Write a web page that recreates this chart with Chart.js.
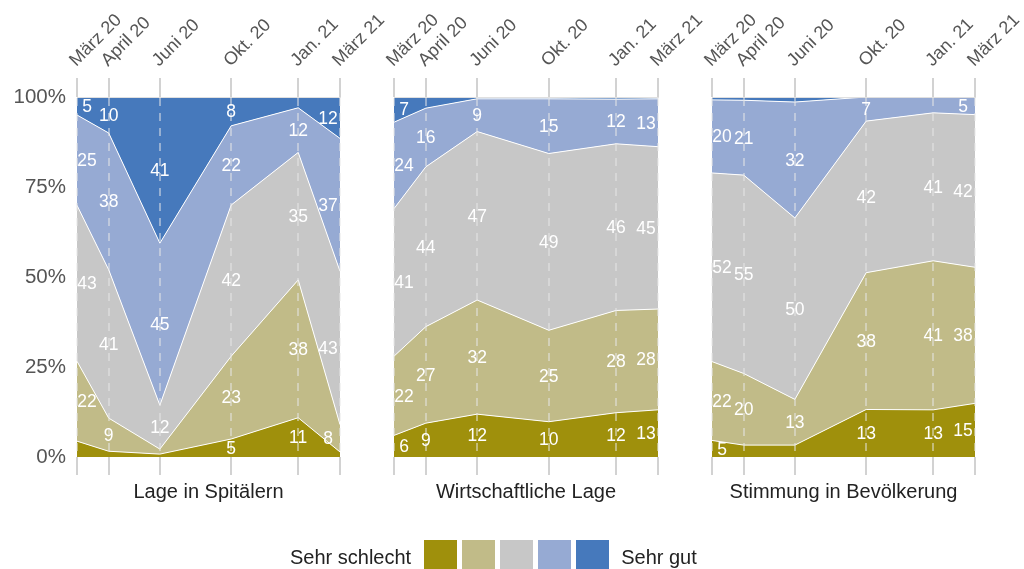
<!DOCTYPE html>
<html lang="de">
<head>
<meta charset="utf-8">
<title>Einschätzung der Lage</title>
<script src="https://cdn.jsdelivr.net/npm/chart.js@4.4.1/dist/chart.umd.min.js"></script>
<style>
    html, body { margin: 0; padding: 0; background: #fff; }
    body {
        width: 1024px; height: 569px; position: relative; overflow: hidden;
        font-family: "Liberation Sans", Arial, Helvetica, sans-serif;
    }
    .panel { position: absolute; top: 0; }
    .legend {
        position: absolute; left: 290px; top: 540px; height: 34px;
        display: flex; align-items: center; color: #222; font-size: 20px;
    }
    .legend .sw { width: 33px; height: 34px; margin-right: 5px; }
    .legend .first { margin-right: 13px; }
    .legend .last { margin-left: 7px; }
</style>
</head>
<body>
<div class="panel" id="p1"><canvas id="c1" width="395" height="569"></canvas></div>
<div class="panel" id="p2" style="left:370px"><canvas id="c2" width="350" height="569"></canvas></div>
<div class="panel" id="p3" style="left:690px"><canvas id="c3" width="334" height="569"></canvas></div>
<div class="legend" id="legend"></div>

<script>
// survey waves
const surveyDates = ['2020-03-01', '2020-04-14', '2020-06-24', '2020-10-01', '2021-01-02', '2021-03-01'];
const dateLabels = ['März 20', 'April 20', 'Juni 20', 'Okt. 20', 'Jan. 21', 'März 21'];
const categories = ['Sehr schlecht', 'Schlecht', 'Neutral', 'Gut', 'Sehr gut'];
const colors = ['#9f900c', '#c1bb88', '#c7c7c7', '#96aad3', '#4679bc'];
const yTicks = [0, 25, 50, 75, 100];

// Lage in Spitälern
const spitalSehrSchlecht = [4.4, 1.6, 0.8, 5, 10.9, 1.4];
const spitalSchlecht = [22.2, 9.2, 1.4, 23, 38.3, 7.6];
const spitalNeutral = [43.3, 41.2, 12.2, 42, 35.4, 42.6];
const spitalGut = [25.1, 38.0, 45.0, 22, 12.4, 36.9];
const spitalSehrGut = [5.0, 10.0, 40.6, 8, 3.0, 11.5];

// Wirtschaftliche Lage
const wirtschaftSehrSchlecht = [6, 9.4, 11.9, 9.8, 12.3, 13.1];
const wirtschaftSchlecht = [22, 26.8, 31.7, 25.4, 28.4, 28];
const wirtschaftNeutral = [41, 44.4, 46.8, 49.1, 46.3, 45.1];
const wirtschaftGut = [24, 16.3, 9.1, 15.2, 12.4, 13.3];
const wirtschaftSehrGut = [7, 3.1, 0.5, 0.5, 0.6, 0.5];

// Stimmung in Bevölkerung
const stimmungSehrSchlecht = [4.6, 3.3, 3.3, 13.2, 13.1, 14.9];
const stimmungSchlecht = [21.9, 19.9, 12.7, 38.0, 41.4, 37.8];
const stimmungNeutral = [52.4, 55.1, 50.4, 42.1, 41.1, 42.4];
const stimmungGut = [20.3, 20.8, 32.2, 6.7, 4.4, 4.9];
const stimmungSehrGut = [0.8, 0.9, 1.4, 0, 0, 0];

const panels = [
    { canvas: 'c1', title: 'Lage in Spitälern', showY: true, padLeft: 0, padRight: 55,
      series: [spitalSehrSchlecht, spitalSchlecht, spitalNeutral, spitalGut, spitalSehrGut] },
    { canvas: 'c2', title: 'Wirtschaftliche Lage', showY: false, padLeft: 24, padRight: 62,
      series: [wirtschaftSehrSchlecht, wirtschaftSchlecht, wirtschaftNeutral, wirtschaftGut, wirtschaftSehrGut] },
    { canvas: 'c3', title: 'Stimmung in Bevölkerung', showY: false, padLeft: 22, padRight: 49,
      series: [stimmungSehrSchlecht, stimmungSchlecht, stimmungNeutral, stimmungGut, stimmungSehrGut] }
];

const surveyDays = surveyDates.map(d => Date.parse(d) / 86400000);
const FONT = '"Liberation Sans", Arial, Helvetica, sans-serif';
Chart.defaults.font.family = FONT;

function setDateTicks(scale) {
    scale.ticks = surveyDays.map(v => ({ value: v }));
}

// white numbers in the middle of each band
const valueLabels = {
    id: 'valueLabels',
    afterDraw(chart) {
        const { ctx, scales } = chart;
        ctx.save();
        ctx.font = '17.5px ' + FONT;
        ctx.fillStyle = '#fff';
        ctx.textAlign = 'center';
        ctx.textBaseline = 'middle';
        surveyDays.forEach((day, i) => {
            let x = scales.x.getPixelForValue(day);
            if (i === 0) x += 10;
            if (i === surveyDays.length - 1) x -= 12;
            let base = 0;
            chart.data.datasets.forEach(ds => {
                const v = ds.data[i].y;
                const shown = Math.round(v);
                if (shown >= 5) {
                    ctx.fillText(String(shown), x, scales.y.getPixelForValue(base + v / 2) + 1);
                }
                base += v;
            });
        });
        ctx.restore();
    }
};

panels.forEach(panel => {
    const datasets = panel.series.map((values, k) => ({
        label: categories[k],
        data: values.map((v, i) => ({ x: surveyDays[i], y: v })),
        backgroundColor: colors[k],
        borderColor: '#fff',
        borderWidth: 1,
        fill: k === 0 ? 'origin' : '-1',
        pointRadius: 0,
        pointHoverRadius: 0,
        tension: 0
    }));

    new Chart(document.getElementById(panel.canvas), {
        type: 'line',
        data: { datasets },
        options: {
            responsive: false,
            animation: false,
            events: [],
            layout: { padding: { left: panel.padLeft, right: panel.padRight, top: 0, bottom: 0 } },
            plugins: { legend: { display: false }, tooltip: { enabled: false } },
            scales: {
                x: {
                    type: 'linear',
                    position: 'top',
                    min: surveyDays[0],
                    max: surveyDays[surveyDays.length - 1],
                    afterBuildTicks: setDateTicks,
                    afterFit: s => { s.height = 97; s.paddingLeft = 0; s.paddingRight = 0; },
                    ticks: {
                        autoSkip: false,
                        minRotation: 45,
                        maxRotation: 45,
                        padding: 7,
                        labelOffset: 11,
                        color: '#555',
                        font: { size: 18 },
                        callback: v => dateLabels[surveyDays.indexOf(v)]
                    },
                    grid: {
                        z: 1,
                        color: 'rgba(232,232,232,0.5)',
                        lineWidth: 2,
                        tickColor: '#d2d2d2',
                        tickLength: 19,
                        tickBorderDash: []
                    },
                    border: { z: 2, display: true, color: '#e0e0e0', width: 1, dash: [8, 7] }
                },
                x2: {
                    type: 'linear',
                    position: 'bottom',
                    min: surveyDays[0],
                    max: surveyDays[surveyDays.length - 1],
                    afterBuildTicks: setDateTicks,
                    afterFit: s => { s.height = 112; s.paddingLeft = 0; s.paddingRight = 0; },
                    ticks: { display: false },
                    grid: { drawOnChartArea: false, tickColor: '#d2d2d2', tickLength: 18, lineWidth: 2 },
                    border: { display: false },
                    title: {
                        display: true,
                        text: panel.title,
                        color: '#222',
                        font: { size: 20 },
                        padding: { top: 0, bottom: 65 }
                    }
                },
                y: {
                    display: panel.showY,
                    stacked: true,
                    min: 0,
                    max: 100,
                    afterBuildTicks: s => { s.ticks = yTicks.map(v => ({ value: v })); },
                    afterFit: s => { if (panel.showY) s.width = 77; },
                    ticks: { padding: 11, color: '#555', font: { size: 20.5 }, callback: v => v + '%' },
                    grid: { display: false, drawTicks: false },
                    border: { display: false }
                }
            }
        },
        plugins: [valueLabels]
    });
});

// legend row: Sehr schlecht [] [] [] [] [] Sehr gut
const legend = document.getElementById('legend');
legend.innerHTML = '<span class="first">' + categories[0] + '</span>' +
    colors.map(c => '<span class="sw" style="background:' + c + '"></span>').join('') +
    '<span class="last">' + categories[categories.length - 1] + '</span>';
</script>
</body>
</html>
